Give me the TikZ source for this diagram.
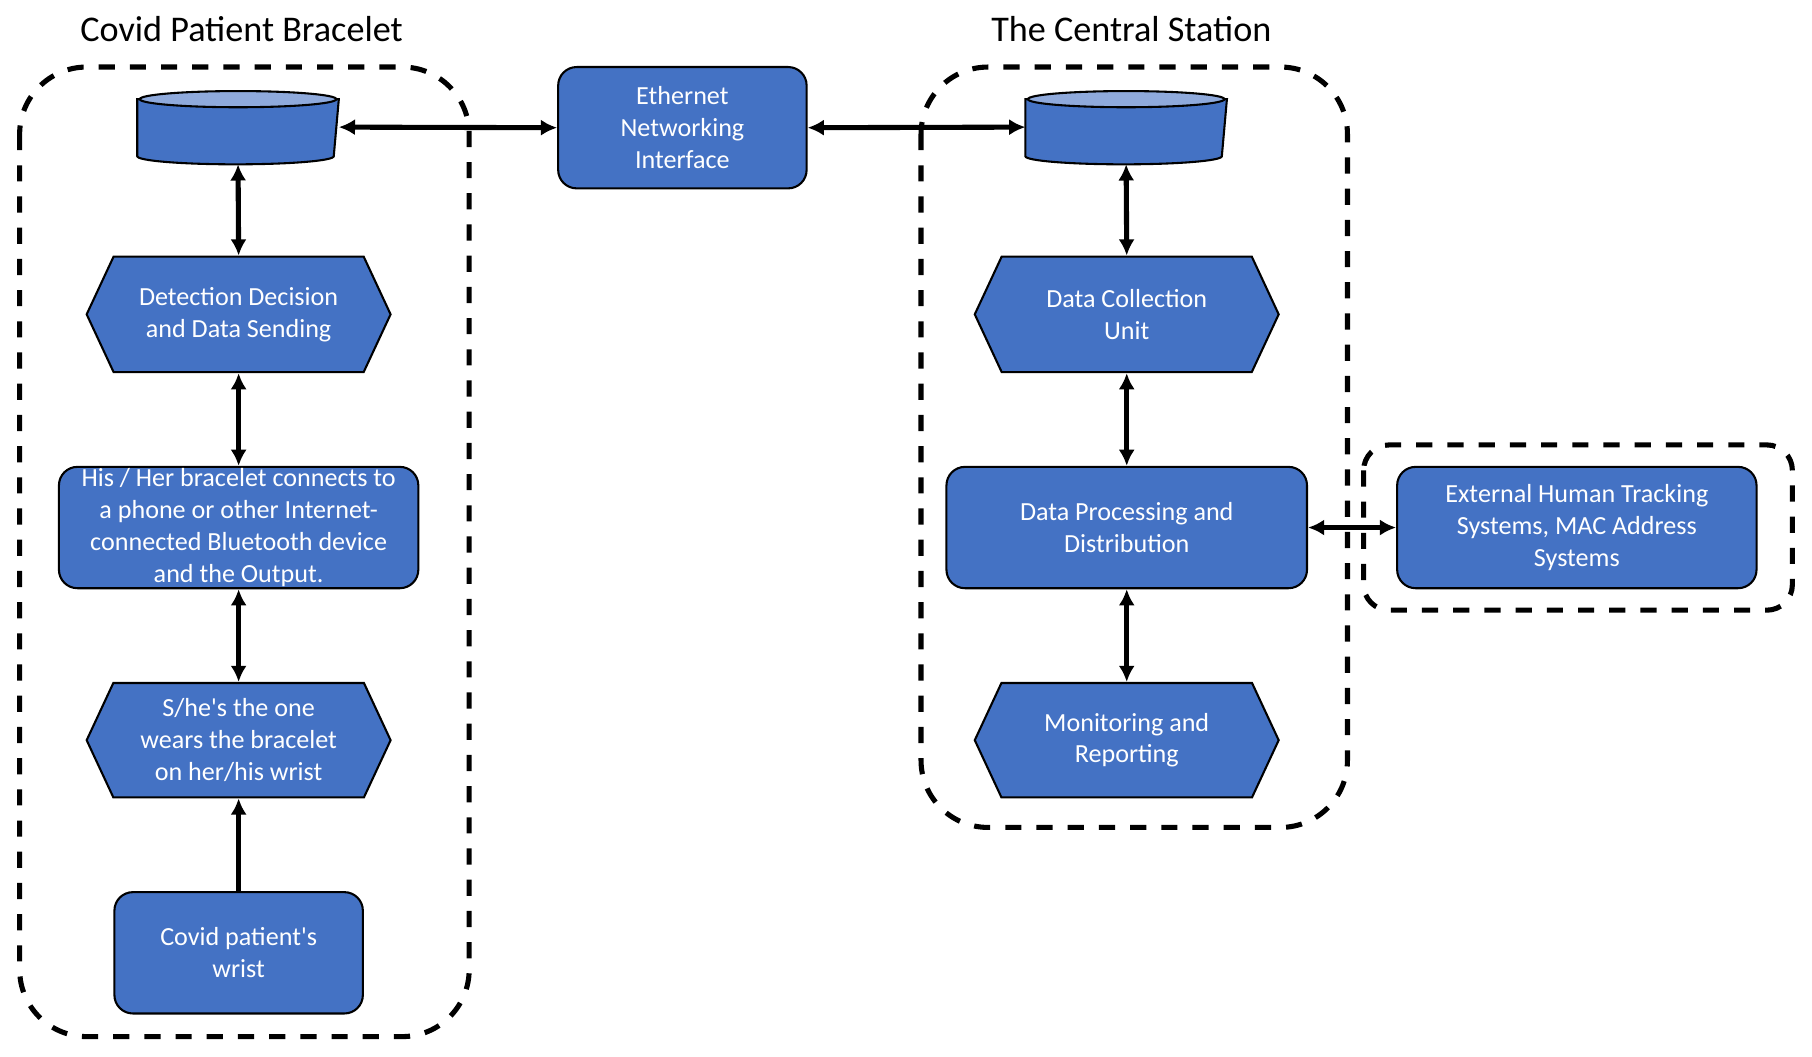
\documentclass[tikz,border=0pt]{standalone}
\usepackage{fontspec}
\setmainfont{Carlito}
\usetikzlibrary{arrows.meta, calc, shapes.symbols}
\definecolor{boxblue}{HTML}{4472C4}
\definecolor{toplight}{HTML}{8FAADC}

\begin{document}
\begin{tikzpicture}[x=1pt, y=-1pt, >={Latex[length=14pt, width=14pt]}, line width=4.4pt]
    \tikzset{
        blockbase/.style={fill=boxblue, draw=black, line width=1.8pt, text=white, align=center,
            font=\fontsize{22.6}{27.5}\selectfont, inner sep=0pt},
        roundbox/.style={blockbase, rectangle, rounded corners=16pt},
        hexbox/.style={blockbase, signal, signal to=east and west, signal pointer angle=130,
            minimum width=263pt, minimum height=100pt},
        dbnode/.style={rectangle, minimum width=170pt, minimum height=60pt, inner sep=0pt},
        groupframe/.style={dash pattern=on 14pt off 13pt, line width=4.4pt, rounded corners=#1},
        headline/.style={font=\fontsize{31.3}{38}\selectfont}
    };
    \useasboundingbox (0,0) rectangle (1568,914);
    % group frames
    \draw[groupframe=58pt] (17,58) rectangle (406,897);
    \draw[groupframe=58pt] (797,58) rectangle (1166,716);
    \draw[groupframe=22pt] (1180,385) rectangle (1551,528);
    \node[headline] (t1) at (209,25) {Covid Patient Bracelet};
    \node[headline] (t2) at (979,25) {The Central Station};
    % bracelet side
    \node[dbnode] (db1) at (206,110) {};
    \node[hexbox] (det) at (206.5,272) {Detection Decision\\and Data Sending};
    \node[roundbox, minimum width=311pt, minimum height=105pt] (his) at (206.5,456.5)
        {His / Her bracelet connects to\\a phone or other Internet-\\connected Bluetooth device\\and the Output.};
    \node[hexbox, minimum height=99pt] (she) at (206.5,640.5)
        {S/he\textquotesingle s the one\\wears the bracelet\\on her/his wrist};
    \node[roundbox, minimum width=215pt, minimum height=105pt] (wrist) at (206.5,824.5)
        {Covid patient\textquotesingle s\\wrist};
    % network
    \node[roundbox, minimum width=215pt, minimum height=105pt] (eth) at (590.5,110.5) {Ethernet\\Networking\\Interface};
    % central station side
    \node[dbnode] (db2) at (974.5,110) {};
    \node[hexbox] (col) at (975,272) {Data Collection\\Unit};
    \node[roundbox, minimum width=312pt, minimum height=105pt] (proc) at (975,456.5) {Data Processing and\\Distribution};
    \node[hexbox, minimum height=99pt] (mon) at (975,640.5) {Monitoring and\\Reporting};
    \node[roundbox, minimum width=311pt, minimum height=105pt] (ext) at (1364.5,456.5)
        {External Human Tracking\\Systems, MAC Address\\Systems};
    % databases
    \foreach \db in {db1, db2} {
        \draw[fill=boxblue, line width=1.8pt] ($(\db.north west)+(0pt,-8pt)$) -- ($(\db.south west)+(0pt,7pt)$)
            arc[start angle=180, end angle=360, x radius=85pt, y radius=7pt]
            -- ($(\db.north east)+(0pt,-8pt)$) -- cycle;
        \draw[fill=toplight, line width=1.8pt] ($(\db.north)+(0pt,-8pt)$) ellipse[x radius=85pt, y radius=7pt];
    }
    \path[<->]
        (db1.east) edge (eth.west)
        (eth.east) edge (db2.west)
        (db1.south) edge (det.north)
        (det.south) edge (his.north)
        (his.south) edge (she.north)
        (db2.south) edge (col.north)
        (col.south) edge (proc.north)
        (proc.south) edge (mon.north)
        (proc.east) edge (ext.west)
    ;
    \draw[->] (wrist.north) -- (she.south);
\end{tikzpicture}
\end{document}
